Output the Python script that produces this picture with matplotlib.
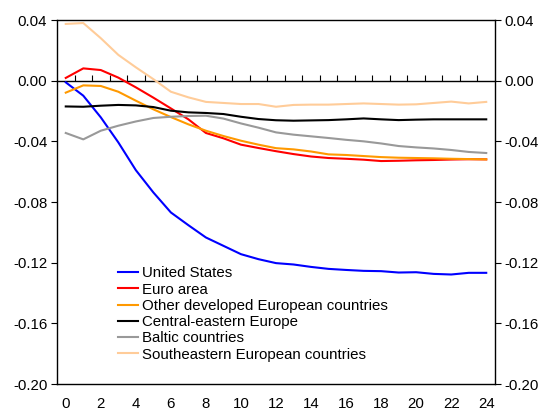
import numpy as np
import matplotlib.pyplot as plt

plt.rcParams['font.family'] = ['Liberation Sans', 'DejaVu Sans']

months = list(range(25))

united_states = [-0.0011, -0.0099, -0.0242, -0.0407, -0.0590, -0.0737, -0.0869, -0.0953,
                 -0.1034, -0.1089, -0.1144, -0.1177, -0.1203, -0.1212, -0.1228, -0.1241,
                 -0.1248, -0.1254, -0.1256, -0.1265, -0.1263, -0.1274, -0.1278, -0.1267, -0.1267]
euro_area = [0.0018, 0.0081, 0.0070, 0.0020, -0.0044, -0.0112, -0.0183, -0.0255,
             -0.0345, -0.0380, -0.0422, -0.0444, -0.0465, -0.0484, -0.0500, -0.0510,
             -0.0515, -0.0521, -0.0530, -0.0528, -0.0525, -0.0523, -0.0520, -0.0518, -0.0519]
other_developed = [-0.0079, -0.0031, -0.0035, -0.0073, -0.0132, -0.0189, -0.0240, -0.0288,
                   -0.0330, -0.0365, -0.0396, -0.0422, -0.0445, -0.0453, -0.0467, -0.0486,
                   -0.0490, -0.0497, -0.0504, -0.0508, -0.0510, -0.0512, -0.0515, -0.0517, -0.0519]
central_eastern = [-0.0170, -0.0172, -0.0165, -0.0160, -0.0163, -0.0174, -0.0198, -0.0209,
                   -0.0213, -0.0220, -0.0238, -0.0253, -0.0261, -0.0264, -0.0262, -0.0260,
                   -0.0255, -0.0249, -0.0255, -0.0260, -0.0257, -0.0255, -0.0255, -0.0255, -0.0255]
baltic = [-0.0345, -0.0387, -0.0330, -0.0297, -0.0269, -0.0246, -0.0238, -0.0233,
          -0.0231, -0.0250, -0.0282, -0.0310, -0.0341, -0.0356, -0.0367, -0.0378,
          -0.0390, -0.0400, -0.0414, -0.0431, -0.0440, -0.0447, -0.0457, -0.0470, -0.0477]
southeastern = [0.0374, 0.0380, 0.0280, 0.0170, 0.0088, 0.0010, -0.0073, -0.0110,
                -0.0140, -0.0147, -0.0154, -0.0154, -0.0172, -0.0160, -0.0158, -0.0158,
                -0.0154, -0.0150, -0.0154, -0.0158, -0.0156, -0.0147, -0.0138, -0.0150, -0.0140]

series = [
    ("United States", united_states, "#0000ff"),
    ("Euro area", euro_area, "#ff0000"),
    ("Other developed European countries", other_developed, "#ff9900"),
    ("Central-eastern Europe", central_eastern, "#000000"),
    ("Baltic countries", baltic, "#999999"),
    ("Southeastern European countries", southeastern, "#ffcc99"),
]

yticks = [-0.20, -0.16, -0.12, -0.08, -0.04, 0.00, 0.04]

fig = plt.figure(figsize=(5.45, 4.13), dpi=100)
ax = fig.add_axes([57 / 545, 1 - 384 / 413, 438 / 545, 364 / 413])

for name, vals, col in series:
    ax.plot(months, vals, color=col, lw=1.5, label=name)

ax.set_xlim(-0.5, 24.5)
ax.set_ylim(-0.20, 0.04)

# category ticks sit on the zero line
sec = ax.secondary_xaxis(5 / 6)
sec.set_xticks(np.arange(0.5, 24, 1.0))
sec.tick_params(axis='x', direction='out', length=4, width=0.8, labeltop=False, labelbottom=False)
sec.spines['top'].set_linewidth(1.0)
sec.spines['bottom'].set_visible(False)

ax.set_xticks(range(0, 25, 2))
ax.tick_params(axis='x', length=0, pad=9, labelsize=10.8)
ax.set_yticks(yticks)
ax.set_yticklabels([f"{v:.2f}" for v in yticks])
ax.tick_params(axis='y', direction='out', length=4, width=0.8, labelsize=10.8,
               left=True, right=True, labelleft=True, labelright=True, pad=3)

for s in ax.spines.values():
    s.set_linewidth(1.0)

ax.legend(loc='upper left', bbox_to_anchor=(0.14, 0.323), frameon=False, fontsize=10.8,
          handlelength=1.3, handletextpad=0.25, labelspacing=0.15, borderpad=0, borderaxespad=0)

fig.savefig('out.png', dpi=100)
